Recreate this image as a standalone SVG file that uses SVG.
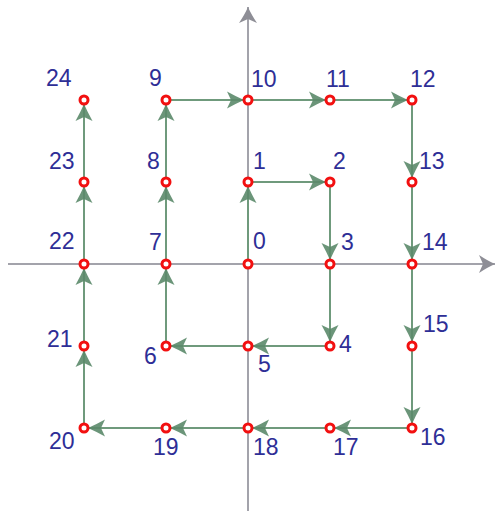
<svg xmlns="http://www.w3.org/2000/svg" width="497" height="511" viewBox="0 0 497 511">
<style>
.ax{stroke:#a3a3ab;stroke-width:2;fill:none}
.cn{stroke:#6f9a7c;stroke-width:2;fill:none;marker-end:url(#ah)}
.pt{fill:#fff;stroke:#f21010;stroke-width:3}
.lb{font-family:"Liberation Sans",Arial,sans-serif;font-size:23px;fill:#2e2e96}
</style>
<defs>
<marker id="ah" markerUnits="userSpaceOnUse" markerWidth="40" markerHeight="40" orient="auto" overflow="visible">
<path d="M -21 -8.5 Q -12 -3.5 -4 0 Q -12 3.5 -21 8.5 L -17 0 Z" fill="#5b8a6a" fill-opacity="0.9"/>
</marker>
<marker id="ax" markerUnits="userSpaceOnUse" markerWidth="40" markerHeight="40" orient="auto" overflow="visible">
<path d="M -16 -9 Q -7 -3 0 0 Q -7 3 -16 9 L -12 0 Z" fill="#8e8e96"/>
</marker>
</defs>
<g id="axes">
<line class="ax" x1="8" y1="264" x2="495" y2="264" marker-end="url(#ax)"/>
<line class="ax" x1="248" y1="511" x2="248" y2="7" marker-end="url(#ax)"/>
</g>
<g id="connectors">
<line class="cn" x1="248" y1="264" x2="248" y2="182"/>
<line class="cn" x1="248" y1="182" x2="330" y2="182"/>
<line class="cn" x1="330" y1="182" x2="330" y2="264"/>
<line class="cn" x1="330" y1="264" x2="330" y2="346"/>
<line class="cn" x1="330" y1="346" x2="248" y2="346"/>
<line class="cn" x1="248" y1="346" x2="166" y2="346"/>
<line class="cn" x1="166" y1="346" x2="166" y2="264"/>
<line class="cn" x1="166" y1="264" x2="166" y2="182"/>
<line class="cn" x1="166" y1="182" x2="166" y2="100"/>
<line class="cn" x1="166" y1="100" x2="248" y2="100"/>
<line class="cn" x1="248" y1="100" x2="330" y2="100"/>
<line class="cn" x1="330" y1="100" x2="412" y2="100"/>
<line class="cn" x1="412" y1="100" x2="412" y2="182"/>
<line class="cn" x1="412" y1="182" x2="412" y2="264"/>
<line class="cn" x1="412" y1="264" x2="412" y2="346"/>
<line class="cn" x1="412" y1="346" x2="412" y2="428"/>
<line class="cn" x1="412" y1="428" x2="330" y2="428"/>
<line class="cn" x1="330" y1="428" x2="248" y2="428"/>
<line class="cn" x1="248" y1="428" x2="166" y2="428"/>
<line class="cn" x1="166" y1="428" x2="84" y2="428"/>
<line class="cn" x1="84" y1="428" x2="84" y2="346"/>
<line class="cn" x1="84" y1="346" x2="84" y2="264"/>
<line class="cn" x1="84" y1="264" x2="84" y2="182"/>
<line class="cn" x1="84" y1="182" x2="84" y2="100"/>
</g>
<g id="p0"><circle class="pt" cx="248" cy="264" r="4"/><text class="lb" x="253" y="249">0</text></g>
<g id="p1"><circle class="pt" cx="248" cy="182" r="4"/><text class="lb" x="253" y="169">1</text></g>
<g id="p2"><circle class="pt" cx="330" cy="182" r="4"/><text class="lb" x="333" y="169">2</text></g>
<g id="p3"><circle class="pt" cx="330" cy="264" r="4"/><text class="lb" x="341" y="250">3</text></g>
<g id="p4"><circle class="pt" cx="330" cy="346" r="4"/><text class="lb" x="339" y="352">4</text></g>
<g id="p5"><circle class="pt" cx="248" cy="346" r="4"/><text class="lb" x="258" y="372">5</text></g>
<g id="p6"><circle class="pt" cx="166" cy="346" r="4"/><text class="lb" x="144" y="364">6</text></g>
<g id="p7"><circle class="pt" cx="166" cy="264" r="4"/><text class="lb" x="149" y="250">7</text></g>
<g id="p8"><circle class="pt" cx="166" cy="182" r="4"/><text class="lb" x="147" y="169">8</text></g>
<g id="p9"><circle class="pt" cx="166" cy="100" r="4"/><text class="lb" x="149" y="86">9</text></g>
<g id="p10"><circle class="pt" cx="248" cy="100" r="4"/><text class="lb" x="251" y="87">10</text></g>
<g id="p11"><circle class="pt" cx="330" cy="100" r="4"/><text class="lb" x="326" y="87">11</text></g>
<g id="p12"><circle class="pt" cx="412" cy="100" r="4"/><text class="lb" x="410" y="87">12</text></g>
<g id="p13"><circle class="pt" cx="412" cy="182" r="4"/><text class="lb" x="419" y="169">13</text></g>
<g id="p14"><circle class="pt" cx="412" cy="264" r="4"/><text class="lb" x="422" y="250">14</text></g>
<g id="p15"><circle class="pt" cx="412" cy="346" r="4"/><text class="lb" x="423" y="332">15</text></g>
<g id="p16"><circle class="pt" cx="412" cy="428" r="4"/><text class="lb" x="420" y="445">16</text></g>
<g id="p17"><circle class="pt" cx="330" cy="428" r="4"/><text class="lb" x="333" y="455">17</text></g>
<g id="p18"><circle class="pt" cx="248" cy="428" r="4"/><text class="lb" x="253" y="455">18</text></g>
<g id="p19"><circle class="pt" cx="166" cy="428" r="4"/><text class="lb" x="153" y="455">19</text></g>
<g id="p20"><circle class="pt" cx="84" cy="428" r="4"/><text class="lb" x="49" y="449">20</text></g>
<g id="p21"><circle class="pt" cx="84" cy="346" r="4"/><text class="lb" x="47" y="347">21</text></g>
<g id="p22"><circle class="pt" cx="84" cy="264" r="4"/><text class="lb" x="49" y="249">22</text></g>
<g id="p23"><circle class="pt" cx="84" cy="182" r="4"/><text class="lb" x="49" y="169">23</text></g>
<g id="p24"><circle class="pt" cx="84" cy="100" r="4"/><text class="lb" x="46" y="86">24</text></g>
</svg>
